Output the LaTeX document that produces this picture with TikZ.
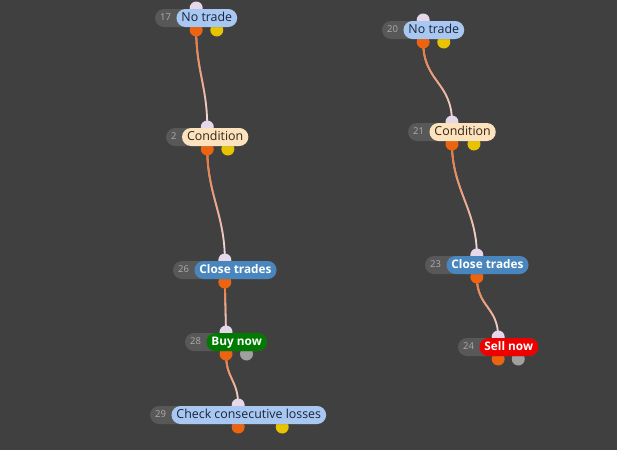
\documentclass[tikz,border=0pt]{standalone}
\usepackage{fontspec}
\setmainfont{Open Sans}
\usetikzlibrary{positioning}
\usetikzlibrary{calc}
\usetikzlibrary{fadings}
\definecolor{bgdark}{RGB}{64,64,64}
\definecolor{pillgrey}{RGB}{88,88,88}
\definecolor{numgrey}{RGB}{172,172,172}
\definecolor{lightfill}{RGB}{168,200,242}
\definecolor{condfill}{RGB}{253,226,190}
\definecolor{closefill}{RGB}{74,134,190}
\definecolor{buyfill}{RGB}{0,122,0}
\definecolor{sellfill}{RGB}{238,0,0}
\definecolor{darktext}{RGB}{26,36,60}
\definecolor{condtext}{RGB}{52,38,22}
\definecolor{portin}{RGB}{230,216,234}
\definecolor{portorange}{RGB}{236,100,16}
\definecolor{portyellow}{RGB}{232,196,0}
\definecolor{portgrey}{RGB}{160,160,160}
\definecolor{wireorange}{RGB}{238,108,36}
\definecolor{wirelight}{RGB}{242,228,238}
\pgfdeclarelayer{bg}
\pgfdeclarelayer{wires}
\pgfdeclarelayer{ports}
\pgfdeclarelayer{pill}
\pgfsetlayers{bg,wires,ports,pill,main}
\tikzfading[name=wirefade, top color=transparent!0, bottom color=transparent!100]
\tikzset{numtag/.style = {text = numgrey, font = \fontsize{9.5}{11}\selectfont, inner xsep = 5pt, inner ysep = 0,
                          minimum height = 18pt, text height = 7pt, text depth = 1.5pt}}
\tikzset{lbl/.style = {rounded corners = 9pt, inner xsep = 5pt, inner ysep = 0, minimum height = 18pt,
                       font = \fontsize{12.4}{14}\selectfont, text height = 9pt, text depth = 2.5pt}}
\tikzset{lightlbl/.style = {lbl, fill = lightfill, text = darktext}}
\tikzset{condlbl/.style = {lbl, fill = condfill, text = condtext}}
\tikzset{closelbl/.style = {lbl, fill = closefill, text = white, font = \fontsize{11.8}{14}\selectfont\bfseries}}
\tikzset{buylbl/.style = {lbl, fill = buyfill, text = white, font = \fontsize{11.8}{14}\selectfont\bfseries}}
\tikzset{selllbl/.style = {lbl, fill = sellfill, text = white, font = \fontsize{11.8}{14}\selectfont\bfseries}}
\tikzset{port/.style = {circle, inner sep = 0, minimum size = 13pt}}
\tikzset{wire/.style = {line width = 1.8pt, draw = wirelight,
                        postaction = {draw = wireorange, path fading = wirefade}}}
% #1 number, #2 left of pill, #3 middle row, #4 label style, #5 text, #6 colour of second output
\newcommand{\opblock}[6]{%
  \node [numtag, anchor = west] (n#1) at (#2, #3) {#1};
  \node [#4, right = 0pt of n#1] (l#1) {#5};
  \coordinate (c#1) at ($(n#1.west)!0.5!(l#1.east)$);
  \begin{pgfonlayer}{pill}
    \fill [pillgrey, rounded corners = 9pt] ($(n#1.west) + (0, -9)$) rectangle ($(l#1.east) + (0, 9)$);
  \end{pgfonlayer}
  \begin{pgfonlayer}{ports}
    \node [port, fill = portin] (i#1) at ($(c#1) + (0, -10)$) {};
    \node [port, fill = portorange] (o#1) at ($(c#1) + (0, 12)$) {};
    \def\secondport{#6}%
    \ifx\secondport\empty\else
      \node [port, fill = #6] (s#1) at ($($(c#1)!0.5!(l#1.east)$) + (0, 12)$) {};
    \fi
  \end{pgfonlayer}}

\begin{document}
\begin{tikzpicture}[x = 1pt, y = -1pt]
          \useasboundingbox (0, 0) rectangle (617, 450);
          \begin{pgfonlayer}{bg}
            \fill [bgdark] (0, 0) rectangle (617, 450);
          \end{pgfonlayer}

          % left chain
          \opblock{17}{155}{18}{lightlbl}{No trade}{portyellow}
          \opblock{2}{166}{137}{condlbl}{Condition}{portyellow}
          \opblock{26}{173}{270}{closelbl}{Close trades}{}
          \opblock{28}{185}{342}{buylbl}{Buy now}{portgrey}
          \opblock{29}{150}{415}{lightlbl}{Check consecutive losses}{portyellow}

          % right chain
          \opblock{20}{382}{30}{lightlbl}{No trade}{portyellow}
          \opblock{21}{408}{132}{condlbl}{Condition}{portyellow}
          \opblock{23}{425}{265}{closelbl}{Close trades}{}
          \opblock{24}{458}{347}{selllbl}{Sell now}{portgrey}

          \begin{pgfonlayer}{wires}
            \draw [wire] (o17.center) .. controls +(0, 40) and +(0, -40) .. (i2.center);
            \draw [wire] (o2.center) .. controls +(0, 45) and +(0, -45) .. (i26.center);
            \draw [wire] (o26.center) .. controls +(0, 25) and +(0, -25) .. (i28.center);
            \draw [wire] (o28.center) .. controls +(0, 25) and +(0, -25) .. (i29.center);
            \draw [wire] (o20.center) .. controls +(0, 40) and +(0, -40) .. (i21.center);
            \draw [wire] (o21.center) .. controls +(0, 45) and +(0, -45) .. (i23.center);
            \draw [wire] (o23.center) .. controls +(0, 30) and +(0, -30) .. (i24.center);
          \end{pgfonlayer}
        \end{tikzpicture}
\end{document}
